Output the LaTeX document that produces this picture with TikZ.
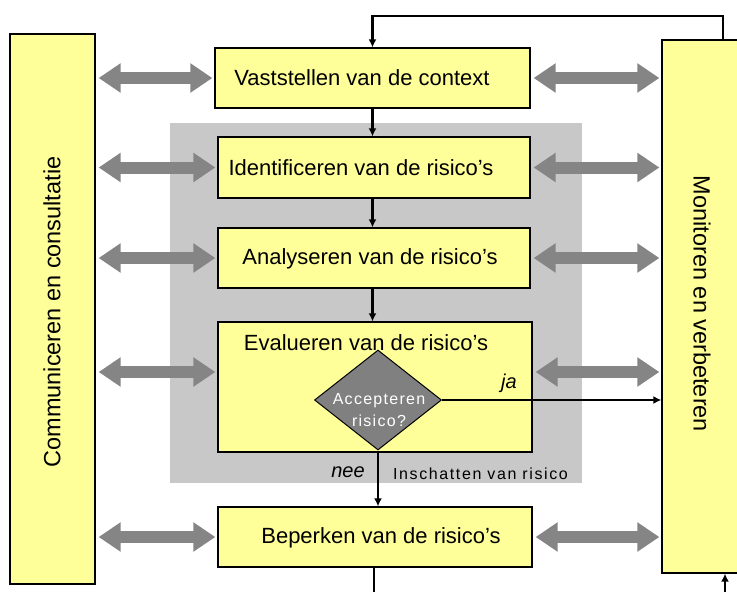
\documentclass[tikz,border=0pt]{standalone}
\usepackage{fontspec}
\setmainfont{Liberation Sans}
\usetikzlibrary{arrows.meta,shapes.geometric}
\definecolor{boxyellow}{HTML}{FFFF99}
\definecolor{bggray}{HTML}{C8C8C8}
\definecolor{arrgray}{HTML}{858585}
\definecolor{diagray}{HTML}{808080}
\begin{document}
\begin{tikzpicture}[x=1pt,y=-1pt,
  box/.style={draw=black, line width=1.3pt, fill=boxyellow, inner sep=0pt},
  flow/.style={draw=black, line width=2.6pt, -{Latex[length=8pt,width=8pt]}},
  plainline/.style={draw=black, line width=2.6pt},
  twoway/.style={draw=arrgray, line width=12pt, {Triangle[length=22pt,width=28pt]}-{Triangle[length=22pt,width=28pt]}, shorten <=3pt, shorten >=2pt},
  lbl/.style={font=\fontsize{22}{26}\selectfont, inner sep=0pt},
  sidelbl/.style={font=\fontsize{23.5}{28}\selectfont, inner sep=0pt},
  small/.style={font=\fontsize{16}{19}\selectfont\addfontfeatures{LetterSpace=10}, inner sep=0pt},
  ital/.style={font=\fontsize{20}{24}\selectfont\itshape, inner sep=0pt}
]
\useasboundingbox (0,0) rectangle (737,592);
\node[fill=bggray, minimum width=412pt, minimum height=360pt, inner sep=0pt] (bg) at (376,303) {};
\node[box, minimum width=85pt, minimum height=550pt] (com) at (52.5,309) {};
\node[sidelbl, rotate=90] (comtxt) at (52,312) {Communiceren en consultatie};
\node[box, minimum width=80pt, minimum height=533pt] (mon) at (702,306.5) {};
\node[sidelbl, rotate=-90] (montxt) at (702,304) {Monitoren en verbeteren};

\node[box, minimum width=315pt, minimum height=60pt] (ctx) at (372.5,78) {};
\node[lbl] (ctxtxt) at (362,78) {Vaststellen van de context};
\node[box, minimum width=312pt, minimum height=61pt] (idf) at (374,167.5) {};
\node[lbl] (idftxt) at (361,168) {Identificeren van de risico's};
\node[box, minimum width=312pt, minimum height=60pt] (ana) at (374,258) {};
\node[lbl] (anatxt) at (370,259) {Analyseren van de risico's};
\node[box, minimum width=314pt, minimum height=130pt] (eva) at (375,387) {};
\node[lbl] (evatxt) at (366,343) {Evalueren van de risico's};
\node[box, minimum width=314pt, minimum height=60pt] (bep) at (375,537) {};
\node[lbl] (beptxt) at (381,538) {Beperken van de risico's};

\node[diamond, draw=black, line width=1pt, fill=diagray, minimum width=127pt, minimum height=100pt, inner sep=0pt] (dia) at (378,400) {};
\node[text=white, align=center, inner sep=0pt, font=\fontsize{16}{22}\selectfont\addfontfeatures{LetterSpace=8}] (diatxt) at (379,410) {Accepteren\\risico?};

\node[ital] (ja) at (509,383) {ja};
\node[ital] (nee) at (348,472) {nee};
\node[small, anchor=west] (insch) at (393,474) {Inschatten van risico};

% flow connectors
\draw[flow] (ctx.south) -- (ctx.south |- idf.north);
\draw[flow] (ctx.south |- idf.south) -- (ctx.south |- ana.north);
\draw[flow] (ctx.south |- ana.south) -- (ctx.south |- eva.north);
\draw[flow] (dia.east) -- (dia.east -| mon.west);
\draw[flow] (dia.south) -- (dia.south |- bep.north);
\coordinate (mtop) at (723,40);
\draw[flow] (mtop) -- (mtop |- 0,16) -| (ctx.north);
\coordinate (botL) at (374,592);
\draw[plainline] (botL |- bep.south) -- (botL);
\coordinate (botR) at (725,592);
\draw[flow] (botR) -- (botR |- mon.south);

% two-way arrows
\coordinate (evarow) at (0,372);
\draw[twoway] (com.east |- ctx.west) -- (ctx.west);
\draw[twoway] (com.east |- idf.west) -- (idf.west);
\draw[twoway] (com.east |- ana.west) -- (ana.west);
\draw[twoway] (com.east |- evarow) -- (eva.west |- evarow);
\draw[twoway] (com.east |- bep.west) -- (bep.west);
\draw[twoway] (ctx.east) -- (mon.west |- ctx.east);
\draw[twoway] (idf.east) -- (mon.west |- idf.east);
\draw[twoway] (ana.east) -- (mon.west |- ana.east);
\draw[twoway] (eva.east |- evarow) -- (mon.west |- evarow);
\draw[twoway] (bep.east) -- (mon.west |- bep.east);
\end{tikzpicture}
\end{document}
